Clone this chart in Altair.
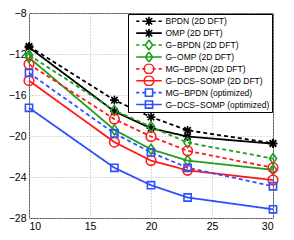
import altair as alt
import pandas as pd

x_vals = [10, 17, 20, 23, 30]
series_names = [
    "BPDN (2D DFT)",
    "OMP (2D DFT)",
    "G−BPDN (2D DFT)",
    "G−OMP (2D DFT)",
    "MG−BPDN (2D DFT)",
    "G−DCS−SOMP (2D DFT)",
    "MG−BPDN (optimized)",
    "G−DCS−SOMP (optimized)",
]
bpdn = [-11.25, -16.5, -18.15, -19.45, -20.7]
omp = [-11.35, -17.6, -19.25, -20.05, -20.75]
g_bpdn = [-12.1, -17.5, -19.1, -20.65, -22.2]
g_omp = [-12.35, -19.4, -21.3, -22.4, -23.3]
mg_bpdn = [-13.0, -18.35, -20.05, -21.45, -23.1]
g_dcs_somp = [-14.6, -20.6, -22.4, -23.35, -24.3]
mg_bpdn_opt = [-13.85, -19.75, -21.6, -23.1, -24.9]
g_dcs_somp_opt = [-17.25, -23.1, -24.8, -26.0, -27.15]
all_series = [bpdn, omp, g_bpdn, g_omp, mg_bpdn, g_dcs_somp, mg_bpdn_opt, g_dcs_somp_opt]

x_ticks = [10, 15, 20, 25, 30]
y_ticks = [-28, -24, -20, -16, -12, -8]

colors = ["#000000", "#000000", "#1f9e1f", "#1f9e1f", "#ff1a1a", "#ff1a1a", "#2f4fff", "#2f4fff"]
dashes = [[4, 3], [1, 0], [4, 3], [1, 0], [4, 3], [1, 0], [4, 3], [1, 0]]

star = "M-1.1,0L1.1,0M0,-1.1L0,1.1M-0.8,-0.8L0.8,0.8M-0.8,0.8L0.8,-0.8"
diamond = "M0,-1.25L0.9,0L0,1.25L-0.9,0Z"
circle = "M1.2,0A1.2,1.2 0 1 1 -1.2,0A1.2,1.2 0 1 1 1.2,0Z"
square = "M-0.9,-0.9L0.9,-0.9L0.9,0.9L-0.9,0.9Z"
markers = [star, star, diamond, diamond, circle, circle, square, square]

solid_seg = "M-3.2,0L3.2,0"
dash_seg = "M-3.2,0L-2.4,0M-1.7,0L-0.9,0M0.9,0L1.7,0M2.4,0L3.2,0"
segs = [dash_seg, solid_seg] * 4
legend_shapes = [s + m for s, m in zip(segs, markers)]

rows = []
for name, vals in zip(series_names, all_series):
    for xv, yv in zip(x_vals, vals):
        rows.append({"series": name, "x": xv, "y": yv})
df = pd.DataFrame(rows)

font = "Liberation Sans"
x_enc = alt.X("x:Q", scale=alt.Scale(domain=[10, 30], nice=False),
              axis=alt.Axis(values=x_ticks, title=None, format="d"))
y_enc = alt.Y("y:Q", scale=alt.Scale(domain=[-28, -8], nice=False),
              axis=alt.Axis(values=y_ticks, title=None, format="d"))

def cscale():
    return alt.Scale(domain=series_names, range=colors)

leg = alt.Legend(
    title=None, orient="top-right", offset=1, fillColor="white", strokeColor="#000000",
    padding=2, symbolSize=64, symbolStrokeWidth=1.6, symbolOffset=14, labelOffset=11.5,
    labelFont=font, labelFontSize=8.5, labelColor="#000000", rowPadding=0.9, clipHeight=10.5,
    symbolOpacity=1, symbolFillColor="transparent", labelLimit=200, labelOpacity=1,
)

base = alt.Chart(df)
lines = base.mark_line(strokeWidth=1.8).encode(
    x=x_enc, y=y_enc,
    color=alt.Color("series:N", scale=cscale(), legend=None),
    strokeDash=alt.StrokeDash("series:N", scale=alt.Scale(domain=series_names, range=dashes), legend=None),
)
points = base.mark_point(filled=False, size=64, strokeWidth=1.6, opacity=1).encode(
    x=x_enc, y=y_enc,
    color=alt.Color("series:N", scale=cscale(), legend=None),
    shape=alt.Shape("series:N", scale=alt.Scale(domain=series_names, range=markers), legend=None),
)
legend_layer = base.mark_point(filled=False, size=64, strokeWidth=1.6, opacity=0).encode(
    x=x_enc, y=y_enc,
    color=alt.Color("series:N", scale=cscale(), legend=leg),
    shape=alt.Shape("series:N", scale=alt.Scale(domain=series_names, range=legend_shapes), legend=leg),
)

chart = alt.layer(lines, points, legend_layer).resolve_scale(
    shape="independent", color="independent"
).properties(
    width=278, height=224,
    autosize=alt.AutoSizeParams(type="fit", contains="padding"),
    padding=0,
).configure(font=font).configure_legend(
    labelFont=font, labelFontSize=8.5, labelColor="#000000",
).configure_view(stroke="#555555", strokeWidth=1).configure_axis(
    grid=True, gridColor="#b5b5b5", gridDash=[1, 2], gridWidth=1,
    domain=False, ticks=False, labelPadding=3,
    labelFont=font, labelFontSize=10.5, labelColor="#000000",
)

chart.save("out.html", embed_options={"renderer": "svg", "actions": False})
